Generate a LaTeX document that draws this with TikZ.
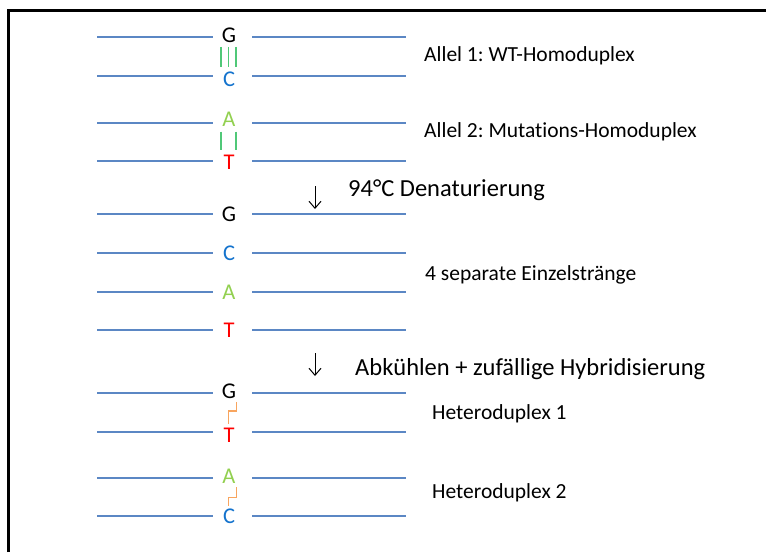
\documentclass[tikz,border=0pt]{standalone}
\usepackage{fontspec}
\setmainfont[Ligatures=NoCommon]{Carlito}
\frenchspacing
\usetikzlibrary{calc,arrows.meta}
\definecolor{strandblue}{RGB}{91,135,196}
\definecolor{cblue}{RGB}{20,115,205}
\definecolor{agreen}{RGB}{146,208,80}
\definecolor{tred}{RGB}{255,0,0}
\definecolor{bondgreen}{RGB}{80,200,120}
\definecolor{mmorange}{RGB}{248,165,95}
\newcommand\strandrow[5]{%
  \coordinate (#1L1) at (97,#2); \coordinate (#1L2) at (213,#2);
  \coordinate (#1R1) at (252,#2); \coordinate (#1R2) at (406,#2);
  \draw[strand] (#1L1) -- (#1L2);
  \draw[strand] (#1R1) -- (#1R2);
  \node[nuc,text=#4] (#1) at (229,{#2+#5}) {#3};}
\begin{document}
\begin{tikzpicture}[x=1pt,y=-1pt,
  strand/.style={draw=strandblue,line width=1.6pt},
  nuc/.style={font=\fontsize{22.5}{27}\selectfont,inner sep=0pt,anchor=base},
  lbl/.style={font=\fontsize{21.5}{26}\selectfont,inner sep=0pt,anchor=base west},
  steplbl/.style={font=\fontsize{24.5}{29}\selectfont,inner sep=0pt,anchor=base west},
  hbond/.style={draw=bondgreen,line width=1.8pt},
  mismatch/.style={draw=mmorange,line width=1.6pt},
  steparrow/.style={-{Straight Barb[length=7pt,width=12pt]},line width=1pt}]
\useasboundingbox (0,0) rectangle (766,552);
\draw[line width=3pt] (8,552) -- (8,10) -- (766,10);
% Allel 1
\strandrow{ga}{37}{G}{black}{5}
\strandrow{ca}{76}{C}{cblue}{10}
\foreach \dx in {-8,-0.5,7}
  \draw[hbond] ($(ga.south)+(\dx,4.5)$) -- ($(ca.north)+(\dx,-4)$);
\node[lbl] (l1) at (424,61.5) {Allel 1: WT-Homoduplex};
% Allel 2
\strandrow{ab}{123}{A}{agreen}{3.5}
\strandrow{tb}{161}{T}{tred}{8}
\foreach \dx in {-8,7}
  \draw[hbond] ($(ab.south)+(\dx,5)$) -- ($(tb.north)+(\dx,-4)$);
\node[lbl] (l2) at (424,137.3) {Allel 2: Mutations-Homoduplex};
% Denaturierung
\coordinate (a1s) at (315,186);
\coordinate (a1e) at (315,209);
\draw[steparrow] (a1s) -- (a1e);
\node[steplbl] (s1) at (348,196.7) {94°C Denaturierung};
% single strands
\strandrow{gs}{214}{G}{black}{7}
\strandrow{cs}{253}{C}{cblue}{7}
\strandrow{as}{292}{A}{agreen}{7}
\strandrow{ts}{330}{T}{tred}{7}
\node[lbl] (l3) at (425,280) {4 separate Einzelstränge};
% Hybridisierung
\coordinate (a2s) at (315,353);
\coordinate (a2e) at (315,376);
\draw[steparrow] (a2s) -- (a2e);
\node[steplbl] (s2) at (355,375) {Abkühlen + zufällige Hybridisierung};
% Heteroduplex 1
\strandrow{gh}{393}{G}{black}{5}
\strandrow{th}{432}{T}{tred}{10}
\draw[mismatch] ($(gh.south)+(7.5,3.5)$) -- ++(0,9) -| ($(th.north)+(-0.7,-3.5)$);
\node[lbl] (l4) at (432,419) {Heteroduplex 1};
% Heteroduplex 2
\strandrow{ah}{478}{A}{agreen}{5.6}
\strandrow{ch}{516}{C}{cblue}{7}
\draw[mismatch] ($(ah.south)+(7.5,3.5)$) -- ++(0,10) -| ($(ch.north)+(-0.7,-2)$);
\node[lbl] (l5) at (432,498.3) {Heteroduplex 2};
\end{tikzpicture}
\end{document}
